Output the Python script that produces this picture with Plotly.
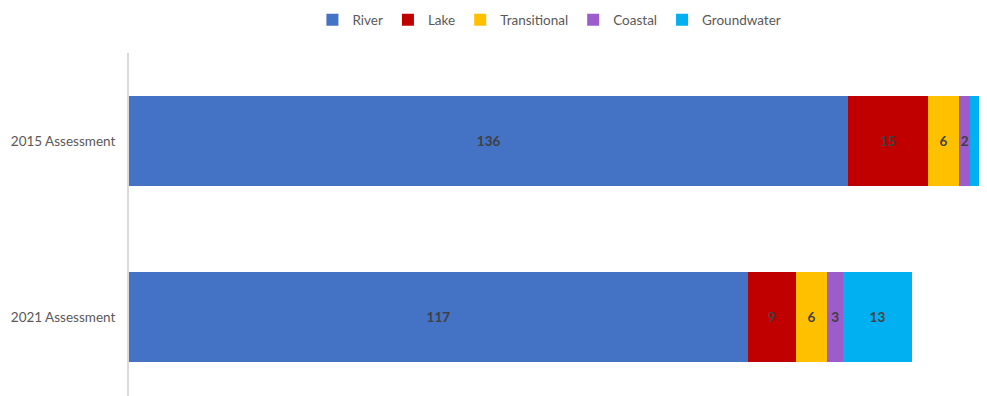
import plotly.graph_objects as go

categories = ["2015 Assessment", "2021 Assessment"]
series_names = ["River", "Lake", "Transitional", "Coastal", "Groundwater"]
river = [136, 117]
lake = [15, 9]
transitional = [6, 6]
coastal = [2, 3]
groundwater = [6, 13]
values = [river, lake, transitional, coastal, groundwater]
colors = ["#4472C4", "#C00000", "#FFC000", "#9C5CCB", "#00B0F0"]

FONT = "Lato"

fig = go.Figure()
for name, vals, col in zip(series_names, values, colors):
    fig.add_trace(go.Bar(
        name=name, y=categories, x=vals, orientation="h",
        marker=dict(color=col, line=dict(width=0)),
        text=vals, texttemplate="%{x}", textposition="inside",
        insidetextanchor="middle",
        textfont=dict(family=FONT, size=13.5, color="#404040", weight="bold"),
        hoverinfo="x+name",
    ))

# page body adds an 8px margin, so the figure is sized to fill the rest of the window
fig.update_layout(
    width=979, height=388,
    barmode="stack", bargap=0.489,
    margin=dict(l=121, r=0, t=45, b=0, pad=0, autoexpand=False),
    plot_bgcolor="white", paper_bgcolor="white",
    font=dict(family=FONT, size=13.5, color="#595959"),
    uniformtext=dict(mode="show", minsize=13.5),
    legend=dict(orientation="h", x=0.49, xanchor="center", y=0.969, yref="container",
                yanchor="middle", font=dict(size=13.5, color="#595959"),
                itemwidth=30, traceorder="normal"),
    showlegend=True,
)
fig.update_xaxes(range=[0, 162.2], visible=False, showgrid=False, zeroline=False)
fig.update_yaxes(range=[1.449, -0.5], showgrid=False, zeroline=False,
                 showline=True, linecolor="#D9D9D9", linewidth=2,
                 ticks="", ticklabelstandoff=9,
                 tickfont=dict(size=13.5, color="#595959"))

fig.write_html("out.html")
